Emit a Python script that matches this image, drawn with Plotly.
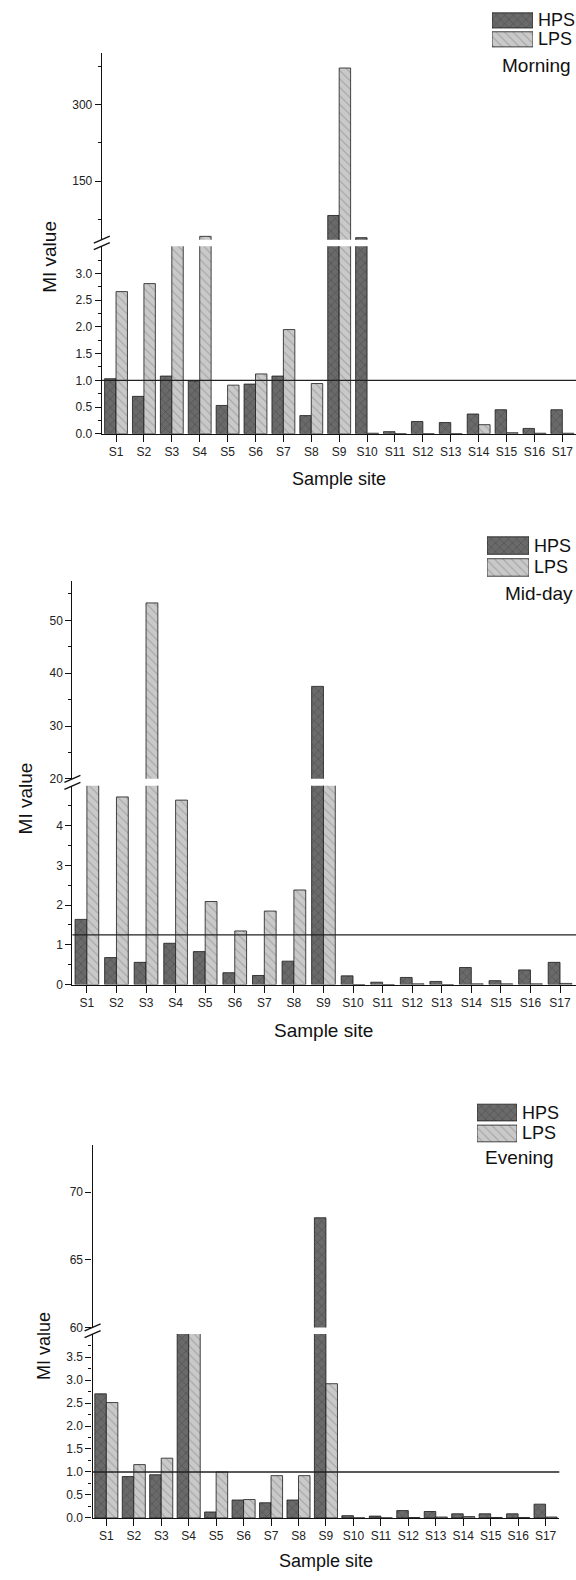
import plotly.graph_objects as go

W, H = 576, 1580

sites = [f"S{i}" for i in range(1, 18)]

# MI values per sampling time (HPS / LPS)
morning_hps = [1.03, 0.70, 1.08, 0.99, 0.53, 0.93, 1.08, 0.34, 82.4, 38.9,
               0.04, 0.23, 0.21, 0.37, 0.45, 0.10, 0.45]
morning_lps = [2.66, 2.81, 20.0, 41.4, 0.91, 1.12, 1.95, 0.94, 371.7, 0.01,
               0.0, 0.0, 0.0, 0.17, 0.02, 0.01, 0.01]

midday_hps = [1.64, 0.68, 0.56, 1.04, 0.83, 0.30, 0.23, 0.59, 37.5, 0.22,
              0.06, 0.18, 0.08, 0.43, 0.10, 0.37, 0.56]
midday_lps = [10.0, 4.72, 53.3, 4.64, 2.09, 1.35, 1.85, 2.38, 12.0, 0.0,
              0.0, 0.02, 0.0, 0.02, 0.02, 0.02, 0.03]

evening_hps = [2.70, 0.90, 0.94, 30.0, 0.13, 0.39, 0.33, 0.39, 68.1, 0.05,
               0.04, 0.16, 0.14, 0.09, 0.09, 0.09, 0.30]
evening_lps = [2.51, 1.16, 1.30, 25.0, 1.00, 0.40, 0.92, 0.92, 2.92, 0.0,
               0.0, 0.01, 0.02, 0.03, 0.01, 0.01, 0.02]

reference_levels = [1.0, 1.25, 1.0]
period_names = ["Morning", "Mid-day", "Evening"]
series_names = ["HPS", "LPS"]
swatch_fill = 1.0

FONT = "Liberation Sans, Arial, sans-serif"
HPS_STYLE = dict(color="#6a6a6a", line=dict(color="#1a1a1a", width=0.8),
                 pattern=dict(shape="x", fgcolor="#2a2a2a", size=6, solidity=0.18))
LPS_STYLE = dict(color="#c9c9c9", line=dict(color="#1a1a1a", width=0.8),
                 pattern=dict(shape="\\", fgcolor="#7a7a7a", size=6, solidity=0.18))

# pixel layout of each panel: x-domain, lower and upper y segments, legend
panels = [
    dict(hps=morning_hps, lps=morning_lps, ref=reference_levels[0], name=period_names[0],
         xdom=(101.8, 576.0), xrange=(-0.51, 16.49), barw=0.41,
         low=(247.3, 435.7), lowrange=(0, 3.51),
         lowticks=[0, 0.5, 1.0, 1.5, 2.0, 2.5, 3.0], lowfmt=".1f",
         lowminor=[0.25, 0.75, 1.25, 1.75, 2.25, 2.75, 3.25],
         up=(53.3, 240.7), uprange=(35.0, 401.0),
         upticks=[150, 300], upminor=[75, 225, 375],
         legbox=(492, 533), legy=(11, 49), legtext=(500, 66),
         ytitle=(50, 258, 19), xtitle=(339, 481, 18)),
    dict(hps=midday_hps, lps=midday_lps, ref=reference_levels[1], name=period_names[1],
         xdom=(72.4, 576.0), xrange=(-0.49, 16.54), barw=0.40,
         low=(789.3, 989.0), lowrange=(0, 5.0),
         lowticks=[0, 1, 2, 3, 4], lowfmt="d",
         lowminor=[0.5, 1.5, 2.5, 3.5, 4.5],
         up=(583.3, 782.3), uprange=(20.0, 57.5),
         upticks=[20, 30, 40, 50], upminor=[25, 35, 45, 55],
         legbox=(487, 529), legy=(537, 581), legtext=(503, 596),
         ytitle=(25, 802, 19), xtitle=(323, 1035, 19)),
    dict(hps=evening_hps, lps=evening_lps, ref=reference_levels[2], name=period_names[2],
         xdom=(92.6, 559.3), xrange=(-0.5, 16.5), barw=0.42,
         low=(1340.0, 1524.7), lowrange=(0, 4.0),
         lowticks=[0, 0.5, 1.0, 1.5, 2.0, 2.5, 3.0, 3.5], lowfmt=".1f",
         lowminor=[0.25, 0.75, 1.25, 1.75, 2.25, 2.75, 3.25, 3.75],
         up=(1150.0, 1333.3), uprange=(60.0, 73.48),
         upticks=[60, 65, 70], upminor=[],
         legbox=(477, 517), legy=(1107, 1149), legtext=(483, 1163),
         ytitle=(44, 1352, 18), xtitle=(326, 1568, 18)),
]


def px(x):
    return x / W


def py(y):
    return 1 - y / H


counters = {"x": 0, "y": 0}


def new_axis(kind):
    counters[kind] += 1
    n = counters[kind]
    return (f"{kind}axis" if n == 1 else f"{kind}axis{n}"), (kind if n == 1 else f"{kind}{n}")


layout = {}
shapes = []
annotations = []
traces = []

axis_line = dict(showline=True, linecolor="#111", linewidth=1.3, showgrid=False,
                 zeroline=False, ticks="outside", tickcolor="#111", tickwidth=1,
                 ticklen=6, tickfont=dict(family=FONT, size=12, color="#222"))

for p in panels:
    xname, xref = new_axis("x")
    ylname, ylref = new_axis("y")
    yuname, yuref = new_axis("y")

    layout[xname] = dict(axis_line, type="category", categoryorder="array",
                         categoryarray=sites, range=list(p["xrange"]),
                         domain=[px(p["xdom"][0]), px(p["xdom"][1])],
                         anchor=ylref, ticklen=7)
    layout[ylname] = dict(axis_line, range=list(p["lowrange"]),
                          domain=[py(p["low"][1]), py(p["low"][0])],
                          anchor=xref, tickvals=p["lowticks"], tickformat=p["lowfmt"],
                          minor=dict(tickvals=p["lowminor"], ticks="outside", ticklen=3,
                                     tickcolor="#111", showgrid=False))
    layout[yuname] = dict(axis_line, range=list(p["uprange"]),
                          domain=[py(p["up"][1]), py(p["up"][0])],
                          anchor=xref, tickvals=p["upticks"],
                          minor=dict(tickvals=p["upminor"], ticks="outside", ticklen=3,
                                     tickcolor="#111", showgrid=False))

    w = p["barw"]
    for yref in (ylref, yuref):
        traces.append(go.Bar(x=sites, y=p["hps"], xaxis=xref, yaxis=yref, width=w,
                             offset=-w, marker=HPS_STYLE, name="HPS", showlegend=False))
        traces.append(go.Bar(x=sites, y=p["lps"], xaxis=xref, yaxis=yref, width=w,
                             offset=0, marker=LPS_STYLE, name="LPS", showlegend=False))

    # threshold line across the lower segment
    shapes.append(dict(type="line", xref=f"{xref} domain", yref=ylref,
                       x0=0, x1=1, y0=p["ref"], y1=p["ref"],
                       line=dict(color="#222", width=1.4), layer="above"))

    # axis break marks at both segment edges
    ax = p["xdom"][0]
    for edge in (p["up"][1], p["low"][0]):
        shapes.append(dict(type="line", xref="paper", yref="paper",
                           x0=px(ax - 8), y0=py(edge + 3.5), x1=px(ax + 8), y1=py(edge - 3.5),
                           line=dict(color="#111", width=1.4)))

    # legend swatches with their labels
    lxname, lxref = new_axis("x")
    lyname, lyref = new_axis("y")
    layout[lxname] = dict(domain=[px(p["legbox"][0]), px(p["legbox"][1])], range=[0, 1],
                          visible=False, anchor=lyref, fixedrange=True)
    layout[lyname] = dict(domain=[py(p["legy"][1]), py(p["legy"][0])], type="category",
                          categoryorder="array", categoryarray=series_names[::-1],
                          range=[-0.5, 1.5], anchor=lxref, visible=False, fixedrange=True)
    for sname, style in zip(series_names, (HPS_STYLE, LPS_STYLE)):
        traces.append(go.Bar(x=[swatch_fill], y=[sname], orientation="h", width=0.8,
                             xaxis=lxref, yaxis=lyref, marker=style, showlegend=False,
                             hoverinfo="skip"))
        annotations.append(dict(text=sname, xref="paper", yref=lyref, x=px(p["legbox"][1] + 3),
                                y=sname, xanchor="left", yanchor="middle", showarrow=False,
                                font=dict(family=FONT, size=18, color="#111")))
    lx, ly = p["legtext"]
    annotations.append(dict(text=p["name"], xref="paper", yref="paper",
                            x=px(lx), y=py(ly), xanchor="left", yanchor="middle",
                            showarrow=False, font=dict(family=FONT, size=19, color="#111")))

    # axis titles
    tx, ty, ts = p["ytitle"]
    annotations.append(dict(text="MI value", xref="paper", yref="paper", x=px(tx), y=py(ty),
                            xanchor="center", yanchor="middle", textangle=-90, showarrow=False,
                            font=dict(family=FONT, size=ts, color="#111")))
    tx, ty, ts = p["xtitle"]
    annotations.append(dict(text="Sample site", xref="paper", yref="paper", x=px(tx), y=py(ty),
                            xanchor="center", yanchor="middle", showarrow=False,
                            font=dict(family=FONT, size=ts, color="#111")))

fig = go.Figure(data=traces)
fig.update_layout(**layout)
fig.update_layout(width=W, height=H, margin=dict(l=0, r=0, t=0, b=0),
                  paper_bgcolor="white", plot_bgcolor="white", barmode="overlay",
                  showlegend=False, shapes=shapes, annotations=annotations,
                  font=dict(family=FONT))
fig.write_html("out.html")
